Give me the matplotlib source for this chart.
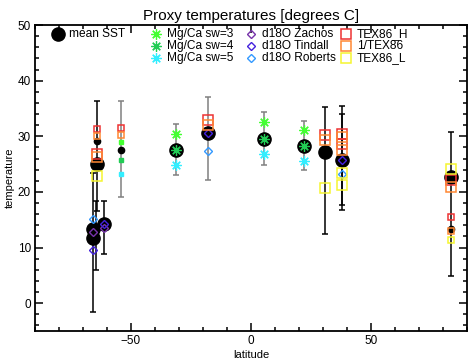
import numpy as np
import matplotlib
matplotlib.use("Agg")
import matplotlib.pyplot as plt
from matplotlib.ticker import MultipleLocator

plt.rcParams['font.family'] = ['Liberation Sans', 'DejaVu Sans']

#%% data
# mean SST, large and small symbols
sst_lat = [-64.0, -65.7, -65.7, -61.3, -31.2, -18.0, 5.4, 22.0, 30.8, 38.0, 83.2]
sst_val = [25.1, 11.7, 13.3, 14.2, 27.5, 30.6, 29.6, 28.2, 27.2, 25.7, 22.7]
sst_small_lat = [-64.0, -54.3, 83.2]
sst_small_val = [29.2, 27.6, 13.3]

# Mg/Ca, sw = 3, 4, 5
mgca_lat = [-31.2, 5.4, 22.0]
mgca_sw3 = [30.5, 32.6, 31.2]
mgca_sw4 = [27.5, 29.6, 28.2]
mgca_sw5 = [24.8, 26.9, 25.5]
mgca_small_lat = [-54.3]
mgca_small_sw3 = [29.0]
mgca_small_sw4 = [25.7]
mgca_small_sw5 = [23.2]

# d18O
zachos_lat = [-65.7, -61.3]
zachos_val = [12.8, 13.5]
tindall_lat = [-65.7, -61.3, -18.0, 38.0]
tindall_val = [9.5, 14.3, 30.6, 25.7]
roberts_lat = [-65.7, -18.0, 38.0]
roberts_val = [15.1, 27.4, 23.3]

# TEX86
tex_lat = [-64.0, -18.0, 30.8, 38.0, 38.0, 83.2]
tex_h = [26.9, 33.0, 30.2, 30.5, 28.7, 22.2]
tex_inv = [26.3, 32.0, 29.3, 29.8, 27.5, 20.9]
tex_l = [22.8, np.nan, 20.7, 23.4, 21.2, 24.2]
tex_small_lat = [-64.0, -54.3, 83.2]
tex_small_h = [31.3, 31.5, 15.5]
tex_small_inv = [30.1, 30.3, 13.0]
tex_small_l = [np.nan, np.nan, 11.3]

# error ranges
err_black_lat = [-65.7, -64.7, -64.0, -61.3, 30.8, 38.0, 38.0, 83.2]
err_black_lo = [-1.6, 5.9, 16.5, 8.9, 12.4, 16.7, 17.6, 4.9]
err_black_hi = [23.4, 18.3, 36.3, 18.3, 35.3, 35.5, 34.1, 30.8]
err_grey_lat = [-54.3, -31.2, -18.0, 5.4, 22.0]
err_grey_lo = [19.1, 23.0, 22.1, 24.8, 24.0]
err_grey_hi = [36.4, 32.3, 37.1, 34.4, 32.8]

c_sw3, c_sw4, c_sw5 = '#44ff33', '#22cc55', '#33eeff'
c_zac, c_tin, c_rob = '#7733aa', '#4422dd', '#3399ff'
c_th, c_ti, c_tl = '#ee3333', '#ff8833', '#f5f530'
star = (8, 2, 0)
star_kw = dict(marker=star, ms=7.5, mew=0.9)
dia_kw = dict(marker='D', mfc='none', ms=4.2, mew=1.0)

#%% figure
fig = plt.figure(figsize=(4.71, 3.62), dpi=100)
ax = fig.add_axes([0.0743, 0.0856, 0.917, 0.845])

for lat, lo, hi, col in [(err_black_lat, err_black_lo, err_black_hi, 'black'),
                         (err_grey_lat, err_grey_lo, err_grey_hi, '#808080')]:
    lo, hi = np.array(lo), np.array(hi)
    mid = (lo + hi) / 2
    ax.errorbar(lat, mid, yerr=(hi - lo) / 2, fmt='none', ecolor=col,
                elinewidth=1.1, capsize=2.5, capthick=1.1, zorder=1)

ax.plot(sst_lat, sst_val, 'o', color='black', ms=9.5, ls='none', zorder=2)
ax.plot(sst_small_lat, sst_small_val, 'o', color='black', ms=4.5, ls='none', zorder=2)

for vals, c in [(mgca_sw3, c_sw3), (mgca_sw4, c_sw4), (mgca_sw5, c_sw5)]:
    ax.plot(mgca_lat, vals, color=c, ls='none', zorder=3, **star_kw)
for vals, c in [(mgca_small_sw3, c_sw3), (mgca_small_sw4, c_sw4), (mgca_small_sw5, c_sw5)]:
    ax.plot(mgca_small_lat, vals, marker='s', color=c, ms=3.5, ls='none', zorder=3)

for lat, vals, c in [(zachos_lat, zachos_val, c_zac), (tindall_lat, tindall_val, c_tin),
                     (roberts_lat, roberts_val, c_rob)]:
    ax.plot(lat, vals, mec=c, ls='none', zorder=3, **dia_kw)

for vals, c in [(tex_h, c_th), (tex_inv, c_ti), (tex_l, c_tl)]:
    ax.plot(tex_lat, vals, 's', mfc='none', mec=c, ms=7, mew=1.1, ls='none', zorder=3)
for vals, c in [(tex_small_h, c_th), (tex_small_inv, c_ti), (tex_small_l, c_tl)]:
    ax.plot(tex_small_lat, vals, 's', mfc='none', mec=c, ms=3.8, mew=1.1, ls='none', zorder=3)

ax.set_xlim(-90, 90)
ax.set_ylim(-5, 50)
ax.xaxis.set_major_locator(MultipleLocator(50))
ax.xaxis.set_minor_locator(MultipleLocator(10))
ax.yaxis.set_major_locator(MultipleLocator(10))
ax.yaxis.set_minor_locator(MultipleLocator(2))
ax.tick_params(which='both', direction='in', top=True, right=True, labelsize=8.5, width=1.1)
ax.tick_params(which='major', length=6, pad=3)
ax.tick_params(which='minor', length=3)
for s in ax.spines.values():
    s.set_linewidth(1.3)

ax.set_title('Proxy temperatures [degrees C]', fontsize=11, pad=4)
ax.set_xlabel('latitude', fontsize=8, labelpad=2)
ax.set_ylabel('temperature', fontsize=8, labelpad=2)

#%% legend, drawn by hand in figure pixels
W, H = 471, 362
def key(px, py, label, **kw):
    ax.plot([px / W], [1 - py / H], transform=fig.transFigure, clip_on=False, ls='none', **kw)
    fig.text((px + 11) / W, 1 - py / H, label, fontsize=8.6, va='center', ha='left')

key(58, 34, 'mean SST', marker='o', color='black', ms=9.5)
key(156, 34, 'Mg/Ca sw=3', color=c_sw3, **star_kw)
key(156, 46, 'Mg/Ca sw=4', color=c_sw4, **star_kw)
key(156, 58, 'Mg/Ca sw=5', color=c_sw5, **star_kw)
key(251, 34, 'd18O Zachos', mec=c_zac, **dia_kw)
key(251, 46, 'd18O Tindall', mec=c_tin, **dia_kw)
key(251, 58, 'd18O Roberts', mec=c_rob, **dia_kw)
key(346, 34, 'TEX86_H', marker='s', mfc='none', mec=c_th, ms=7, mew=1.1)
key(346, 46, '1/TEX86', marker='s', mfc='none', mec=c_ti, ms=7, mew=1.1)
key(346, 58, 'TEX86_L', marker='s', mfc='none', mec=c_tl, ms=7, mew=1.1)

fig.savefig('out.png', dpi=100)
